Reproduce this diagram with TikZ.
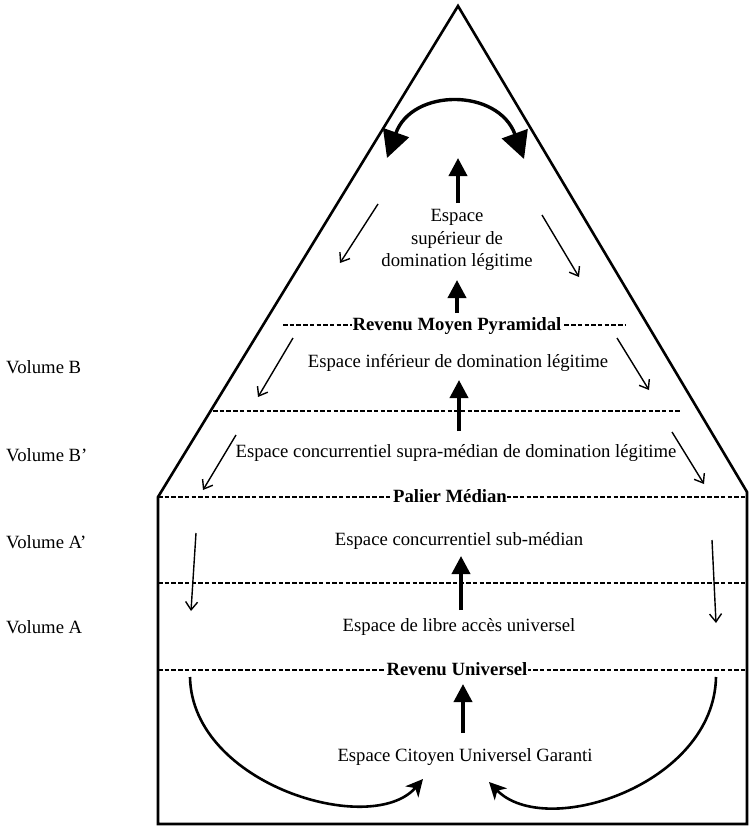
\documentclass[tikz,border=0pt]{standalone}
\usepackage{fontspec}
\setmainfont{Liberation Serif}
\usetikzlibrary{arrows.meta}
\begin{document}
\begin{tikzpicture}[x=1pt,y=-1pt,
  every node/.style={font=\fontsize{18.7}{22.5}\selectfont, inner sep=1pt},
  outline/.style={line width=2.6pt, line join=miter},
  level/.style={line width=1.1pt, dash pattern=on 4.5pt off 2.2pt},
  lvltext/.style={font=\fontsize{18.7}{22.5}\selectfont\bfseries, fill=white, inner sep=0.5pt, anchor=base},
  thinarrow/.style={line width=1.4pt, -{Straight Barb[length=8pt,width=12pt,line width=1.4pt]}},
  push/.style={line width=3.8pt, -{Triangle[length=18pt,width=18pt]}},
  swing/.style={line width=3.4pt, {Triangle[length=27pt,width=27pt]}-{Triangle[length=27pt,width=27pt]}},
  loopback/.style={line width=2.6pt, -{Stealth[length=17pt,width=17pt,inset=5pt]}},
  vol/.style={anchor=west},
]
\useasboundingbox (0,0) rectangle (749,832);

% pyramid on top of the base box
\coordinate (apex) at (458,6);
\coordinate (cl) at (158,497);
\coordinate (cr) at (747,492);
\coordinate (bl) at (158,824);
\coordinate (br) at (747,824);
\draw[outline] (apex) -- (cl) -- (bl) -- (br) -- (cr) -- cycle;

% income levels
\coordinate (rmpL) at (283,325); \coordinate (rmpR) at (626,325);
\coordinate (midL) at (213,411); \coordinate (midR) at (681,411);
\coordinate (pmL) at (158,497);  \coordinate (pmR) at (747,497);
\coordinate (laL) at (158,583);  \coordinate (laR) at (747,583);
\coordinate (ruL) at (158,670);  \coordinate (ruR) at (747,670);
\draw[level] (rmpL) -- (rmpR);
\draw[level] (midL) -- (midR);
\draw[level] (pmL) -- (pmR);
\draw[level] (laL) -- (laR);
\draw[level] (ruL) -- (ruR);
\node[lvltext] (rmp) at (457,330) {Revenu Moyen Pyramidal};
\node[lvltext] (pm) at (450,502) {Palier Médian};
\node[lvltext] (ru) at (457,675) {Revenu Universel};

% spaces
\node[align=center] (sup) at (457,240) {Espace\\supérieur de\\domination légitime};
\node (inf) at (458,363) {Espace inférieur de domination légitime};
\node (supra) at (456,453) {Espace concurrentiel supra-médian de domination légitime};
\node (sub) at (459,541) {Espace concurrentiel sub-médian};
\node (libre) at (459,627) {Espace de libre accès universel};
\node (cit) at (465,757) {Espace Citoyen Universel Garanti};

% volumes
\node[vol] (vB) at (5,367) {Volume B};
\node[vol] (vBp) at (5,455) {Volume B’};
\node[vol] (vAp) at (5,542) {Volume A’};
\node[vol] (vA) at (5,627) {Volume A};

% upward movement
\coordinate (u1a) at (458,203); \coordinate (u1b) at (458,158);
\coordinate (u2a) at (457,313); \coordinate (u2b) at (457,280);
\coordinate (u3a) at (459,431); \coordinate (u3b) at (459,380);
\coordinate (u4a) at (461,610); \coordinate (u4b) at (461,556);
\coordinate (u5a) at (463,733); \coordinate (u5b) at (463,684);
\draw[push] (u1a) -- (u1b);
\draw[push] (u2a) -- (u2b);
\draw[push] (u3a) -- (u3b);
\draw[push] (u4a) -- (u4b);
\draw[push] (u5a) -- (u5b);

% rotation at the summit
\coordinate (swL) at (387,158);
\coordinate (swR) at (524,159);
\draw[swing] (swL) .. controls (412,88) and (498,88) .. (swR);

% downward movement
\coordinate (d1a) at (378,204); \coordinate (d1b) at (340,263);
\coordinate (d2a) at (542,215); \coordinate (d2b) at (579,277);
\coordinate (d3a) at (293,338); \coordinate (d3b) at (258,397);
\coordinate (d4a) at (617,338); \coordinate (d4b) at (649,390);
\coordinate (d5a) at (236,435); \coordinate (d5b) at (203,490);
\coordinate (d6a) at (672,432); \coordinate (d6b) at (704,484);
\coordinate (d7a) at (196,533); \coordinate (d7b) at (191,611);
\coordinate (d8a) at (712,540); \coordinate (d8b) at (716,623);
\foreach \s in {1,...,8} \draw[thinarrow] (d\s a) -- (d\s b);

% return to the guaranteed space
\coordinate (lbA) at (190,677); \coordinate (lbB) at (423,779);
\coordinate (rbA) at (716,677); \coordinate (rbB) at (489,782);
\draw[loopback] (lbA) .. controls (192,785) and (372,838) .. (lbB);
\draw[loopback] (rbA) .. controls (714,785) and (545,840) .. (rbB);
\end{tikzpicture}
\end{document}
